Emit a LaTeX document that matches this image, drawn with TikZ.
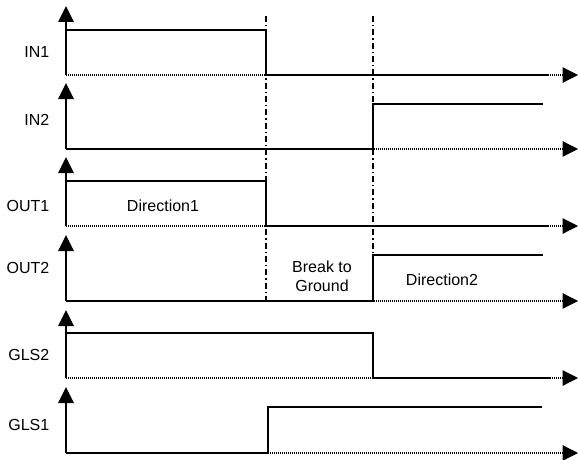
\documentclass[tikz,border=0pt]{standalone}
\usepackage{fontspec}
\setmainfont{Liberation Sans}
\usepackage{tikz}
\usetikzlibrary{arrows.meta, calc}
\tikzset{
 up axis/.style={line width=1.3pt, -{Triangle[length=12pt, width=11.5pt]}},
 time axis/.style={line width=0.9pt, dash pattern=on 0.8pt off 0.7pt, -{Triangle[length=11.5pt, width=11.5pt]}},
 signal/.style={line width=1.3pt},
 marker/.style={line width=1pt, dash pattern=on 4.5pt off 2.25pt on 1pt off 2.25pt},
 sig label/.style={anchor=east, font=\fontsize{12}{14}\selectfont},
 phase/.style={align=center, font=\fontsize{12}{14.3}\selectfont}
}

\begin{document}
\begin{tikzpicture}[x=0.75pt, y=-0.75pt]
 \useasboundingbox (0,0) rectangle (578,460);
 % axes
 \draw[time axis] (66,75) coordinate (in1) -- (578,75);
 \draw[time axis] (66,149) coordinate (in2) -- (578,149);
 \draw[time axis] (66,226) coordinate (out1) -- (578,226);
 \draw[time axis] (66,301) coordinate (out2) -- (578,301);
 \draw[time axis] (66,378) coordinate (gls2) -- (578,378);
 \draw[time axis] (66,453) coordinate (gls1) -- (578,453);
 \draw[up axis] (in1) -- (66,6);
 \draw[up axis] (in2) -- (66,83);
 \draw[up axis] (out1) -- (66,157);
 \draw[up axis] (out2) -- (66,235);
 \draw[up axis] (gls2) -- (66,310);
 \draw[up axis] (gls1) -- (66,387);
 % phase markers
 \draw[marker] (266,16) -- (266,301);
 \draw[marker] (373,16) -- (373,301);
 % signals
 \draw[signal] (66,30) -- (266,30) -- (266,75) -- (549,75);
 \draw[signal] (in2) -- (373,149) -- (373,104) -- (543,104);
 \draw[signal] (66,181) -- (266,181) -- (266,226) -- (549,226);
 \draw[signal] (out2) -- (373,301) -- (373,255) -- (543,255);
 \draw[signal] (66,333) -- (373,333) -- (373,378) -- (550,378);
 \draw[signal] (gls1) -- (268,453) -- (268,407) -- (542,407);
 % labels
 \node[sig label] (lin1) at (54,52) {IN1};
 \node[sig label] (lin2) at (54,120) {IN2};
 \node[sig label] (lout1) at (54,206) {OUT1};
 \node[sig label] (lout2) at (54,268) {OUT2};
 \node[sig label] (lgls2) at (54,355) {GLS2};
 \node[sig label] (lgls1) at (54,425) {GLS1};
 \node[phase] (dir1) at (163,206) {Direction1};
 \node[phase] (brk) at (322,276) {Break to\\Ground};
 \node[phase] (dir2) at (442,280) {Direction2};
\end{tikzpicture}
\end{document}
